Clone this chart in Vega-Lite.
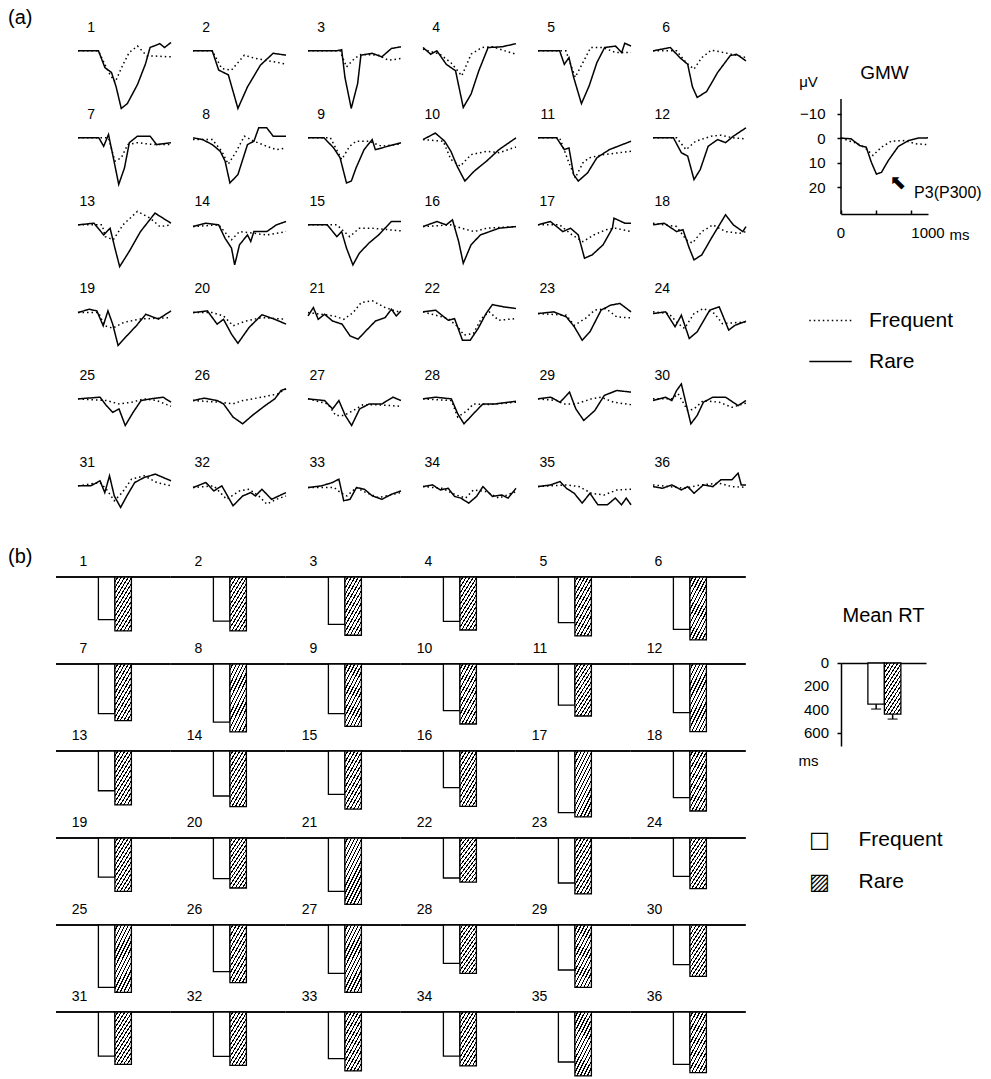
{
"$schema": "https://vega.github.io/schema/vega-lite/v6.json",
"padding": {"left": 8, "top": 7, "right": 2, "bottom": 2},
"background": "white",
"config": {
"view": {"stroke": null},
"font": "Liberation Sans",
"header": {"labels": false, "labelFontSize": 0.1, "labelPadding": 0},
"headerFacet": {"labels": false, "labelFontSize": 0.1, "labelPadding": 0},
"axis": {"domainColor": "black", "tickColor": "black", "labelColor": "black", "titleColor": "black", "domainWidth": 1.5, "tickWidth": 1.5, "grid": false, "labelFont": "Liberation Sans", "titleFont": "Liberation Sans", "labelFontSize": 15, "titleFontWeight": "normal", "labelOverlap": false},
"title": {"font": "Liberation Sans", "fontWeight": "normal", "color": "black"},
"text": {"font": "Liberation Sans", "color": "black"}
},
"datasets": {
"w": [
{"p":1,"c":"R","t":0,"v":0},{"p":1,"c":"R","t":220,"v":0},{"p":1,"c":"R","t":290,"v":7},{"p":1,"c":"R","t":360,"v":9},{"p":1,"c":"R","t":410,"v":15},{"p":1,"c":"R","t":465,"v":24},{"p":1,"c":"R","t":530,"v":22},{"p":1,"c":"R","t":640,"v":14},{"p":1,"c":"R","t":725,"v":5.5},{"p":1,"c":"R","t":775,"v":-1.4},{"p":1,"c":"R","t":880,"v":-3},{"p":1,"c":"R","t":930,"v":-1.4},{"p":1,"c":"R","t":1000,"v":-3.5},
{"p":1,"c":"F","t":0,"v":0},{"p":1,"c":"F","t":220,"v":0},{"p":1,"c":"F","t":330,"v":9},{"p":1,"c":"F","t":400,"v":13},{"p":1,"c":"F","t":480,"v":6},{"p":1,"c":"F","t":550,"v":0.7},{"p":1,"c":"F","t":640,"v":-2},{"p":1,"c":"F","t":740,"v":2},{"p":1,"c":"F","t":1000,"v":2.5},
{"p":2,"c":"R","t":0,"v":0},{"p":2,"c":"R","t":207,"v":0},{"p":2,"c":"R","t":276,"v":8},{"p":2,"c":"R","t":380,"v":10},{"p":2,"c":"R","t":483,"v":24},{"p":2,"c":"R","t":586,"v":15},{"p":2,"c":"R","t":724,"v":6},{"p":2,"c":"R","t":862,"v":1},{"p":2,"c":"R","t":1000,"v":1.8},
{"p":2,"c":"F","t":0,"v":0},{"p":2,"c":"F","t":207,"v":0},{"p":2,"c":"F","t":310,"v":7.4},{"p":2,"c":"F","t":414,"v":8},{"p":2,"c":"F","t":552,"v":1.8},{"p":2,"c":"F","t":655,"v":3},{"p":2,"c":"F","t":793,"v":4},{"p":2,"c":"F","t":1000,"v":5.5},
{"p":3,"c":"R","t":0,"v":0},{"p":3,"c":"R","t":310,"v":0},{"p":3,"c":"R","t":362,"v":-0.5},{"p":3,"c":"R","t":397,"v":11},{"p":3,"c":"R","t":465,"v":24},{"p":3,"c":"R","t":534,"v":13.6},{"p":3,"c":"R","t":569,"v":1.8},{"p":3,"c":"R","t":690,"v":1},{"p":3,"c":"R","t":793,"v":2.5},{"p":3,"c":"R","t":897,"v":-1},{"p":3,"c":"R","t":1000,"v":-1.7},
{"p":3,"c":"F","t":0,"v":0},{"p":3,"c":"F","t":345,"v":0},{"p":3,"c":"F","t":414,"v":6.7},{"p":3,"c":"F","t":500,"v":3.2},{"p":3,"c":"F","t":569,"v":1.5},{"p":3,"c":"F","t":760,"v":1.8},{"p":3,"c":"F","t":862,"v":3.9},{"p":3,"c":"F","t":1000,"v":3.2},
{"p":4,"c":"R","t":0,"v":-1.4},{"p":4,"c":"R","t":83,"v":1.4},{"p":4,"c":"R","t":150,"v":0},{"p":4,"c":"R","t":250,"v":5.6},{"p":4,"c":"R","t":350,"v":8.3},{"p":4,"c":"R","t":433,"v":23.6},{"p":4,"c":"R","t":517,"v":18},{"p":4,"c":"R","t":600,"v":8.3},{"p":4,"c":"R","t":700,"v":-1.4},{"p":4,"c":"R","t":850,"v":-1.7},{"p":4,"c":"R","t":1000,"v":-3},
{"p":4,"c":"F","t":0,"v":-0.7},{"p":4,"c":"F","t":183,"v":1.4},{"p":4,"c":"F","t":300,"v":4.9},{"p":4,"c":"F","t":417,"v":10.4},{"p":4,"c":"F","t":517,"v":1.4},{"p":4,"c":"F","t":633,"v":-1.4},{"p":4,"c":"F","t":750,"v":-1.7},{"p":4,"c":"F","t":883,"v":0},{"p":4,"c":"F","t":1000,"v":1.4},
{"p":5,"c":"R","t":0,"v":0},{"p":5,"c":"R","t":233,"v":0},{"p":5,"c":"R","t":283,"v":5.6},{"p":5,"c":"R","t":333,"v":2.8},{"p":5,"c":"R","t":383,"v":11},{"p":5,"c":"R","t":467,"v":22},{"p":5,"c":"R","t":550,"v":14.6},{"p":5,"c":"R","t":633,"v":4.9},{"p":5,"c":"R","t":717,"v":-1.4},{"p":5,"c":"R","t":833,"v":-2},{"p":5,"c":"R","t":900,"v":0.7},{"p":5,"c":"R","t":933,"v":-3.2},{"p":5,"c":"R","t":1000,"v":-2},
{"p":5,"c":"F","t":0,"v":0},{"p":5,"c":"F","t":300,"v":0},{"p":5,"c":"F","t":400,"v":11},{"p":5,"c":"F","t":483,"v":4.9},{"p":5,"c":"F","t":567,"v":-1.4},{"p":5,"c":"F","t":700,"v":-1.4},{"p":5,"c":"F","t":833,"v":0.7},{"p":5,"c":"F","t":1000,"v":0.7},
{"p":6,"c":"R","t":0,"v":0},{"p":6,"c":"R","t":186,"v":-1.4},{"p":6,"c":"R","t":288,"v":2.8},{"p":6,"c":"R","t":373,"v":5.6},{"p":6,"c":"R","t":424,"v":15},{"p":6,"c":"R","t":475,"v":19.4},{"p":6,"c":"R","t":576,"v":17},{"p":6,"c":"R","t":695,"v":9},{"p":6,"c":"R","t":830,"v":2},{"p":6,"c":"R","t":898,"v":1.4},{"p":6,"c":"R","t":1000,"v":4.2},
{"p":6,"c":"F","t":0,"v":0},{"p":6,"c":"F","t":254,"v":0},{"p":6,"c":"F","t":356,"v":4.9},{"p":6,"c":"F","t":441,"v":7.6},{"p":6,"c":"F","t":525,"v":2.8},{"p":6,"c":"F","t":627,"v":-0.3},{"p":6,"c":"F","t":763,"v":0.7},{"p":6,"c":"F","t":1000,"v":2.8},
{"p":7,"c":"R","t":0,"v":0},{"p":7,"c":"R","t":224,"v":0},{"p":7,"c":"R","t":276,"v":3.5},{"p":7,"c":"R","t":328,"v":-1.4},{"p":7,"c":"R","t":380,"v":8.3},{"p":7,"c":"R","t":438,"v":19.4},{"p":7,"c":"R","t":500,"v":12.5},{"p":7,"c":"R","t":552,"v":2},{"p":7,"c":"R","t":638,"v":-0.7},{"p":7,"c":"R","t":776,"v":-0.7},{"p":7,"c":"R","t":845,"v":2.8},{"p":7,"c":"R","t":1000,"v":2},
{"p":7,"c":"F","t":0,"v":0},{"p":7,"c":"F","t":328,"v":0},{"p":7,"c":"F","t":397,"v":9.7},{"p":7,"c":"F","t":466,"v":8.3},{"p":7,"c":"F","t":534,"v":2.8},{"p":7,"c":"F","t":638,"v":2},{"p":7,"c":"F","t":810,"v":2.8},{"p":7,"c":"F","t":1000,"v":2.8},
{"p":8,"c":"R","t":0,"v":0},{"p":8,"c":"R","t":103,"v":0.7},{"p":8,"c":"R","t":207,"v":2.8},{"p":8,"c":"R","t":293,"v":5.6},{"p":8,"c":"R","t":345,"v":9.7},{"p":8,"c":"R","t":397,"v":18.8},{"p":8,"c":"R","t":483,"v":15.3},{"p":8,"c":"R","t":586,"v":2.8},{"p":8,"c":"R","t":655,"v":1.4},{"p":8,"c":"R","t":707,"v":-4.2},{"p":8,"c":"R","t":793,"v":-4.2},{"p":8,"c":"R","t":862,"v":-0.7},{"p":8,"c":"R","t":1000,"v":-0.7},
{"p":8,"c":"F","t":0,"v":0.7},{"p":8,"c":"F","t":207,"v":0.7},{"p":8,"c":"F","t":310,"v":5.6},{"p":8,"c":"F","t":379,"v":11},{"p":8,"c":"F","t":466,"v":5.6},{"p":8,"c":"F","t":552,"v":-0.7},{"p":8,"c":"F","t":655,"v":1.4},{"p":8,"c":"F","t":793,"v":3.5},{"p":8,"c":"F","t":897,"v":4.9},{"p":8,"c":"F","t":1000,"v":4.2},
{"p":9,"c":"R","t":0,"v":0},{"p":9,"c":"R","t":172,"v":0},{"p":9,"c":"R","t":276,"v":4.2},{"p":9,"c":"R","t":345,"v":8.3},{"p":9,"c":"R","t":414,"v":18.8},{"p":9,"c":"R","t":466,"v":18},{"p":9,"c":"R","t":517,"v":12.5},{"p":9,"c":"R","t":603,"v":4.9},{"p":9,"c":"R","t":690,"v":0.7},{"p":9,"c":"R","t":724,"v":4.9},{"p":9,"c":"R","t":793,"v":4.2},{"p":9,"c":"R","t":1000,"v":2},
{"p":9,"c":"F","t":0,"v":0},{"p":9,"c":"F","t":241,"v":0},{"p":9,"c":"F","t":362,"v":9},{"p":9,"c":"F","t":448,"v":3.5},{"p":9,"c":"F","t":517,"v":1.4},{"p":9,"c":"F","t":655,"v":1.4},{"p":9,"c":"F","t":793,"v":3.5},{"p":9,"c":"F","t":1000,"v":2.5},
{"p":10,"c":"R","t":0,"v":0.7},{"p":10,"c":"R","t":133,"v":-2},{"p":10,"c":"R","t":233,"v":1.4},{"p":10,"c":"R","t":300,"v":5.6},{"p":10,"c":"R","t":367,"v":11.8},{"p":10,"c":"R","t":450,"v":18},{"p":10,"c":"R","t":550,"v":13.9},{"p":10,"c":"R","t":683,"v":9.7},{"p":10,"c":"R","t":817,"v":4.9},{"p":10,"c":"R","t":1000,"v":0},
{"p":10,"c":"F","t":0,"v":0.7},{"p":10,"c":"F","t":217,"v":1.4},{"p":10,"c":"F","t":300,"v":9},{"p":10,"c":"F","t":400,"v":11.8},{"p":10,"c":"F","t":517,"v":7},{"p":10,"c":"F","t":683,"v":5.6},{"p":10,"c":"F","t":817,"v":6.2},{"p":10,"c":"F","t":1000,"v":3.8},
{"p":11,"c":"R","t":0,"v":0},{"p":11,"c":"R","t":200,"v":0},{"p":11,"c":"R","t":283,"v":4.9},{"p":11,"c":"R","t":333,"v":4.2},{"p":11,"c":"R","t":383,"v":15.3},{"p":11,"c":"R","t":433,"v":18},{"p":11,"c":"R","t":533,"v":14.6},{"p":11,"c":"R","t":633,"v":8.3},{"p":11,"c":"R","t":767,"v":4.9},{"p":11,"c":"R","t":1000,"v":1.4},
{"p":11,"c":"F","t":0,"v":0},{"p":11,"c":"F","t":233,"v":0},{"p":11,"c":"F","t":333,"v":10.4},{"p":11,"c":"F","t":400,"v":16.7},{"p":11,"c":"F","t":483,"v":10.4},{"p":11,"c":"F","t":550,"v":8.3},{"p":11,"c":"F","t":700,"v":7},{"p":11,"c":"F","t":1000,"v":5.6},
{"p":12,"c":"R","t":0,"v":0},{"p":12,"c":"R","t":220,"v":0},{"p":12,"c":"R","t":305,"v":6.2},{"p":12,"c":"R","t":373,"v":7.6},{"p":12,"c":"R","t":441,"v":17.4},{"p":12,"c":"R","t":508,"v":13.2},{"p":12,"c":"R","t":593,"v":3.5},{"p":12,"c":"R","t":695,"v":0.7},{"p":12,"c":"R","t":780,"v":2},{"p":12,"c":"R","t":864,"v":-0.7},{"p":12,"c":"R","t":1000,"v":-4.2},
{"p":12,"c":"F","t":0,"v":0},{"p":12,"c":"F","t":254,"v":0},{"p":12,"c":"F","t":356,"v":4.9},{"p":12,"c":"F","t":458,"v":1.4},{"p":12,"c":"F","t":627,"v":-0.7},{"p":12,"c":"F","t":729,"v":-1.1},{"p":12,"c":"F","t":864,"v":0},{"p":12,"c":"F","t":1000,"v":0.4},
{"p":13,"c":"R","t":0,"v":0},{"p":13,"c":"R","t":172,"v":-0.7},{"p":13,"c":"R","t":276,"v":4.2},{"p":13,"c":"R","t":345,"v":1.4},{"p":13,"c":"R","t":397,"v":9.7},{"p":13,"c":"R","t":448,"v":17.4},{"p":13,"c":"R","t":552,"v":11},{"p":13,"c":"R","t":672,"v":2.8},{"p":13,"c":"R","t":828,"v":-4.9},{"p":13,"c":"R","t":914,"v":-2.8},{"p":13,"c":"R","t":1000,"v":-0.7},
{"p":13,"c":"F","t":0,"v":0},{"p":13,"c":"F","t":259,"v":0},{"p":13,"c":"F","t":293,"v":4.9},{"p":13,"c":"F","t":380,"v":6.2},{"p":13,"c":"F","t":483,"v":0},{"p":13,"c":"F","t":638,"v":-5.6},{"p":13,"c":"F","t":776,"v":-2.8},{"p":13,"c":"F","t":880,"v":0.7},{"p":13,"c":"F","t":1000,"v":0},
{"p":14,"c":"R","t":0,"v":0.7},{"p":14,"c":"R","t":138,"v":-0.7},{"p":14,"c":"R","t":276,"v":0},{"p":14,"c":"R","t":345,"v":5.6},{"p":14,"c":"R","t":414,"v":9.7},{"p":14,"c":"R","t":448,"v":16.7},{"p":14,"c":"R","t":500,"v":8.3},{"p":14,"c":"R","t":586,"v":4.2},{"p":14,"c":"R","t":621,"v":6.9},{"p":14,"c":"R","t":655,"v":2.8},{"p":14,"c":"R","t":793,"v":2.8},{"p":14,"c":"R","t":897,"v":0},{"p":14,"c":"R","t":1000,"v":-1.4},
{"p":14,"c":"F","t":0,"v":0.7},{"p":14,"c":"F","t":276,"v":0},{"p":14,"c":"F","t":414,"v":6.2},{"p":14,"c":"F","t":500,"v":2.8},{"p":14,"c":"F","t":655,"v":3.5},{"p":14,"c":"F","t":793,"v":4.2},{"p":14,"c":"F","t":1000,"v":2.8},
{"p":15,"c":"R","t":0,"v":0},{"p":15,"c":"R","t":207,"v":0},{"p":15,"c":"R","t":310,"v":4.9},{"p":15,"c":"R","t":362,"v":2.8},{"p":15,"c":"R","t":414,"v":9.7},{"p":15,"c":"R","t":483,"v":16.7},{"p":15,"c":"R","t":552,"v":11.8},{"p":15,"c":"R","t":655,"v":7.6},{"p":15,"c":"R","t":759,"v":4.2},{"p":15,"c":"R","t":897,"v":-1.4},{"p":15,"c":"R","t":1000,"v":-1.4},
{"p":15,"c":"F","t":0,"v":0},{"p":15,"c":"F","t":310,"v":0},{"p":15,"c":"F","t":448,"v":4.9},{"p":15,"c":"F","t":552,"v":1.4},{"p":15,"c":"F","t":690,"v":1.4},{"p":15,"c":"F","t":1000,"v":2.5},
{"p":16,"c":"R","t":0,"v":0.7},{"p":16,"c":"R","t":150,"v":-1.4},{"p":16,"c":"R","t":250,"v":0},{"p":16,"c":"R","t":317,"v":-2.1},{"p":16,"c":"R","t":383,"v":6.9},{"p":16,"c":"R","t":433,"v":16},{"p":16,"c":"R","t":517,"v":8.3},{"p":16,"c":"R","t":617,"v":4.2},{"p":16,"c":"R","t":717,"v":2.8},{"p":16,"c":"R","t":817,"v":1.4},{"p":16,"c":"R","t":1000,"v":0.7},
{"p":16,"c":"F","t":0,"v":0.7},{"p":16,"c":"F","t":300,"v":0},{"p":16,"c":"F","t":417,"v":1.4},{"p":16,"c":"F","t":550,"v":2.8},{"p":16,"c":"F","t":683,"v":1.4},{"p":16,"c":"F","t":1000,"v":0.7},
{"p":17,"c":"R","t":0,"v":0},{"p":17,"c":"R","t":133,"v":-1.4},{"p":17,"c":"R","t":267,"v":2.8},{"p":17,"c":"R","t":350,"v":1.4},{"p":17,"c":"R","t":433,"v":4.2},{"p":17,"c":"R","t":500,"v":13.9},{"p":17,"c":"R","t":583,"v":12.5},{"p":17,"c":"R","t":700,"v":8.3},{"p":17,"c":"R","t":800,"v":1.4},{"p":17,"c":"R","t":817,"v":-2.8},{"p":17,"c":"R","t":933,"v":-0.7},{"p":17,"c":"R","t":1000,"v":-0.7},
{"p":17,"c":"F","t":0,"v":0},{"p":17,"c":"F","t":233,"v":0},{"p":17,"c":"F","t":367,"v":4.2},{"p":17,"c":"F","t":483,"v":7},{"p":17,"c":"F","t":600,"v":4.2},{"p":17,"c":"F","t":733,"v":2},{"p":17,"c":"F","t":833,"v":1.4},{"p":17,"c":"F","t":1000,"v":2.8},
{"p":18,"c":"R","t":0,"v":0},{"p":18,"c":"R","t":119,"v":-0.7},{"p":18,"c":"R","t":254,"v":2.8},{"p":18,"c":"R","t":322,"v":2},{"p":18,"c":"R","t":390,"v":9.7},{"p":18,"c":"R","t":441,"v":14.6},{"p":18,"c":"R","t":525,"v":12.5},{"p":18,"c":"R","t":627,"v":5.6},{"p":18,"c":"R","t":780,"v":-4.2},{"p":18,"c":"R","t":864,"v":0},{"p":18,"c":"R","t":966,"v":2.8},{"p":18,"c":"R","t":1000,"v":0.7},
{"p":18,"c":"F","t":0,"v":-0.7},{"p":18,"c":"F","t":254,"v":0.7},{"p":18,"c":"F","t":356,"v":6.2},{"p":18,"c":"F","t":424,"v":7.6},{"p":18,"c":"F","t":525,"v":2.8},{"p":18,"c":"F","t":644,"v":0},{"p":18,"c":"F","t":780,"v":2.8},{"p":18,"c":"F","t":932,"v":3.5},{"p":18,"c":"F","t":1000,"v":2.8},
{"p":19,"c":"R","t":0,"v":0.3},{"p":19,"c":"R","t":119,"v":-1.1},{"p":19,"c":"R","t":203,"v":-0.4},{"p":19,"c":"R","t":271,"v":5.8},{"p":19,"c":"R","t":322,"v":-0.4},{"p":19,"c":"R","t":373,"v":5.1},{"p":19,"c":"R","t":431,"v":14},{"p":19,"c":"R","t":525,"v":10},{"p":19,"c":"R","t":627,"v":5.8},{"p":19,"c":"R","t":729,"v":1},{"p":19,"c":"R","t":864,"v":3},{"p":19,"c":"R","t":1000,"v":-0.4},
{"p":19,"c":"F","t":0,"v":0.3},{"p":19,"c":"F","t":220,"v":0.3},{"p":19,"c":"F","t":288,"v":5.8},{"p":19,"c":"F","t":373,"v":6.8},{"p":19,"c":"F","t":492,"v":4.4},{"p":19,"c":"F","t":661,"v":3},{"p":19,"c":"F","t":1000,"v":2.4},
{"p":20,"c":"R","t":0,"v":0.3},{"p":20,"c":"R","t":155,"v":-0.4},{"p":20,"c":"R","t":259,"v":5.1},{"p":20,"c":"R","t":328,"v":3.1},{"p":20,"c":"R","t":414,"v":9.3},{"p":20,"c":"R","t":483,"v":13.1},{"p":20,"c":"R","t":603,"v":6.5},{"p":20,"c":"R","t":741,"v":1.2},{"p":20,"c":"R","t":879,"v":3.1},{"p":20,"c":"R","t":1000,"v":5.1},
{"p":20,"c":"F","t":0,"v":0.3},{"p":20,"c":"F","t":207,"v":0.3},{"p":20,"c":"F","t":328,"v":1.7},{"p":20,"c":"F","t":431,"v":5.8},{"p":20,"c":"F","t":569,"v":3.8},{"p":20,"c":"F","t":741,"v":2.4},{"p":20,"c":"F","t":1000,"v":3.1},
{"p":21,"c":"R","t":0,"v":1.7},{"p":21,"c":"R","t":58,"v":-1.8},{"p":21,"c":"R","t":110,"v":3.1},{"p":21,"c":"R","t":178,"v":1},{"p":21,"c":"R","t":264,"v":3.8},{"p":21,"c":"R","t":366,"v":5.1},{"p":21,"c":"R","t":452,"v":10},{"p":21,"c":"R","t":538,"v":11.4},{"p":21,"c":"R","t":623,"v":7.9},{"p":21,"c":"R","t":726,"v":3.8},{"p":21,"c":"R","t":829,"v":2.4},{"p":21,"c":"R","t":897,"v":-1.1},{"p":21,"c":"R","t":949,"v":1.7},{"p":21,"c":"R","t":1000,"v":-0.4},
{"p":21,"c":"F","t":0,"v":0.3},{"p":21,"c":"F","t":144,"v":1},{"p":21,"c":"F","t":281,"v":1.7},{"p":21,"c":"F","t":384,"v":3.1},{"p":21,"c":"F","t":486,"v":0.3},{"p":21,"c":"F","t":572,"v":-3.9},{"p":21,"c":"F","t":692,"v":-4.6},{"p":21,"c":"F","t":829,"v":-1.8},{"p":21,"c":"F","t":1000,"v":0.3},
{"p":22,"c":"R","t":0,"v":0},{"p":22,"c":"R","t":136,"v":-0.7},{"p":22,"c":"R","t":271,"v":3.5},{"p":22,"c":"R","t":339,"v":2.8},{"p":22,"c":"R","t":424,"v":11.8},{"p":22,"c":"R","t":508,"v":11.8},{"p":22,"c":"R","t":593,"v":6.9},{"p":22,"c":"R","t":678,"v":0.7},{"p":22,"c":"R","t":746,"v":-3},{"p":22,"c":"R","t":881,"v":-2},{"p":22,"c":"R","t":1000,"v":-1.4},
{"p":22,"c":"F","t":0,"v":0},{"p":22,"c":"F","t":271,"v":2.8},{"p":22,"c":"F","t":373,"v":6.2},{"p":22,"c":"F","t":441,"v":9.7},{"p":22,"c":"F","t":542,"v":9},{"p":22,"c":"F","t":627,"v":2.8},{"p":22,"c":"F","t":712,"v":0},{"p":22,"c":"F","t":814,"v":3.5},{"p":22,"c":"F","t":1000,"v":2.8},
{"p":23,"c":"R","t":0,"v":0.7},{"p":23,"c":"R","t":169,"v":0},{"p":23,"c":"R","t":305,"v":2.1},{"p":23,"c":"R","t":390,"v":6.2},{"p":23,"c":"R","t":475,"v":11.8},{"p":23,"c":"R","t":559,"v":8.3},{"p":23,"c":"R","t":678,"v":-0.7},{"p":23,"c":"R","t":780,"v":-2.8},{"p":23,"c":"R","t":881,"v":-3.5},{"p":23,"c":"R","t":1000,"v":0},
{"p":23,"c":"F","t":0,"v":0.7},{"p":23,"c":"F","t":305,"v":1.4},{"p":23,"c":"F","t":390,"v":5.6},{"p":23,"c":"F","t":508,"v":2.8},{"p":23,"c":"F","t":610,"v":-0.7},{"p":23,"c":"F","t":729,"v":-1.4},{"p":23,"c":"F","t":847,"v":2.1},{"p":23,"c":"F","t":1000,"v":2.5},
{"p":24,"c":"R","t":0,"v":0.7},{"p":24,"c":"R","t":136,"v":0},{"p":24,"c":"R","t":237,"v":6.2},{"p":24,"c":"R","t":305,"v":1.4},{"p":24,"c":"R","t":390,"v":11.1},{"p":24,"c":"R","t":475,"v":8.3},{"p":24,"c":"R","t":610,"v":-0.7},{"p":24,"c":"R","t":712,"v":-2.1},{"p":24,"c":"R","t":814,"v":7.6},{"p":24,"c":"R","t":881,"v":5.6},{"p":24,"c":"R","t":1000,"v":3.9},
{"p":24,"c":"F","t":0,"v":0},{"p":24,"c":"F","t":170,"v":0.7},{"p":24,"c":"F","t":271,"v":4.9},{"p":24,"c":"F","t":339,"v":6.9},{"p":24,"c":"F","t":441,"v":0.7},{"p":24,"c":"F","t":542,"v":-1.4},{"p":24,"c":"F","t":661,"v":0.7},{"p":24,"c":"F","t":746,"v":4.9},{"p":24,"c":"F","t":1000,"v":4.2},
{"p":25,"c":"R","t":0,"v":0},{"p":25,"c":"R","t":237,"v":-0.7},{"p":25,"c":"R","t":305,"v":2.8},{"p":25,"c":"R","t":373,"v":5.6},{"p":25,"c":"R","t":441,"v":4.2},{"p":25,"c":"R","t":508,"v":11.1},{"p":25,"c":"R","t":593,"v":5.6},{"p":25,"c":"R","t":678,"v":0.7},{"p":25,"c":"R","t":780,"v":0},{"p":25,"c":"R","t":915,"v":-0.7},{"p":25,"c":"R","t":1000,"v":1.4},
{"p":25,"c":"F","t":0,"v":0},{"p":25,"c":"F","t":305,"v":0.7},{"p":25,"c":"F","t":441,"v":2.1},{"p":25,"c":"F","t":576,"v":1.4},{"p":25,"c":"F","t":712,"v":0},{"p":25,"c":"F","t":847,"v":0.7},{"p":25,"c":"F","t":1000,"v":3.1},
{"p":26,"c":"R","t":0,"v":0.7},{"p":26,"c":"R","t":121,"v":-0.3},{"p":26,"c":"R","t":259,"v":0.7},{"p":26,"c":"R","t":328,"v":2.1},{"p":26,"c":"R","t":431,"v":7.6},{"p":26,"c":"R","t":534,"v":10.4},{"p":26,"c":"R","t":638,"v":6.9},{"p":26,"c":"R","t":776,"v":2.8},{"p":26,"c":"R","t":879,"v":0},{"p":26,"c":"R","t":948,"v":-3.5},{"p":26,"c":"R","t":1000,"v":-4.2},
{"p":26,"c":"F","t":0,"v":0.7},{"p":26,"c":"F","t":293,"v":1.4},{"p":26,"c":"F","t":431,"v":2.1},{"p":26,"c":"F","t":534,"v":0.7},{"p":26,"c":"F","t":741,"v":-0.7},{"p":26,"c":"F","t":914,"v":-2.1},{"p":26,"c":"F","t":1000,"v":-4.2},
{"p":27,"c":"R","t":0,"v":0},{"p":27,"c":"R","t":178,"v":0.7},{"p":27,"c":"R","t":264,"v":4.2},{"p":27,"c":"R","t":332,"v":0.7},{"p":27,"c":"R","t":400,"v":6.9},{"p":27,"c":"R","t":469,"v":11.1},{"p":27,"c":"R","t":555,"v":4.2},{"p":27,"c":"R","t":658,"v":2.1},{"p":27,"c":"R","t":795,"v":2.1},{"p":27,"c":"R","t":914,"v":-0.7},{"p":27,"c":"R","t":1000,"v":0.7},
{"p":27,"c":"F","t":0,"v":0},{"p":27,"c":"F","t":212,"v":2.1},{"p":27,"c":"F","t":298,"v":6.9},{"p":27,"c":"F","t":384,"v":6.9},{"p":27,"c":"F","t":486,"v":4.9},{"p":27,"c":"F","t":589,"v":2.5},{"p":27,"c":"F","t":760,"v":2.5},{"p":27,"c":"F","t":1000,"v":3.1},
{"p":28,"c":"R","t":0,"v":0},{"p":28,"c":"R","t":136,"v":-0.7},{"p":28,"c":"R","t":305,"v":0},{"p":28,"c":"R","t":373,"v":6.2},{"p":28,"c":"R","t":441,"v":10.4},{"p":28,"c":"R","t":542,"v":6.2},{"p":28,"c":"R","t":644,"v":2.1},{"p":28,"c":"R","t":780,"v":2.1},{"p":28,"c":"R","t":1000,"v":1},
{"p":28,"c":"F","t":0,"v":0},{"p":28,"c":"F","t":305,"v":0.7},{"p":28,"c":"F","t":373,"v":7.6},{"p":28,"c":"F","t":475,"v":4.9},{"p":28,"c":"F","t":542,"v":2.1},{"p":28,"c":"F","t":712,"v":2.4},{"p":28,"c":"F","t":1000,"v":1.4},
{"p":29,"c":"R","t":0,"v":0},{"p":29,"c":"R","t":136,"v":-0.7},{"p":29,"c":"R","t":237,"v":1.4},{"p":29,"c":"R","t":339,"v":-2.8},{"p":29,"c":"R","t":407,"v":4.2},{"p":29,"c":"R","t":492,"v":9},{"p":29,"c":"R","t":610,"v":4.9},{"p":29,"c":"R","t":712,"v":-1.4},{"p":29,"c":"R","t":847,"v":-3.5},{"p":29,"c":"R","t":1000,"v":-2.8},
{"p":29,"c":"F","t":0,"v":0},{"p":29,"c":"F","t":203,"v":0.7},{"p":29,"c":"F","t":271,"v":2.1},{"p":29,"c":"F","t":407,"v":2.1},{"p":29,"c":"F","t":576,"v":0},{"p":29,"c":"F","t":678,"v":-0.7},{"p":29,"c":"F","t":814,"v":1.4},{"p":29,"c":"F","t":1000,"v":2.4},
{"p":30,"c":"R","t":0,"v":0.7},{"p":30,"c":"R","t":136,"v":-0.7},{"p":30,"c":"R","t":203,"v":0.7},{"p":30,"c":"R","t":254,"v":-3.5},{"p":30,"c":"R","t":305,"v":-6.2},{"p":30,"c":"R","t":356,"v":2.1},{"p":30,"c":"R","t":407,"v":10.4},{"p":30,"c":"R","t":475,"v":6.9},{"p":30,"c":"R","t":542,"v":1.4},{"p":30,"c":"R","t":644,"v":-0.7},{"p":30,"c":"R","t":780,"v":-0.7},{"p":30,"c":"R","t":915,"v":2.8},{"p":30,"c":"R","t":1000,"v":0.7},
{"p":30,"c":"F","t":0,"v":0},{"p":30,"c":"F","t":203,"v":0},{"p":30,"c":"F","t":271,"v":-2.1},{"p":30,"c":"F","t":373,"v":4.9},{"p":30,"c":"F","t":441,"v":4.2},{"p":30,"c":"F","t":542,"v":0.7},{"p":30,"c":"F","t":712,"v":1.4},{"p":30,"c":"F","t":847,"v":3.5},{"p":30,"c":"F","t":1000,"v":1.8},
{"p":31,"c":"R","t":0,"v":0},{"p":31,"c":"R","t":136,"v":0},{"p":31,"c":"R","t":237,"v":-2.1},{"p":31,"c":"R","t":288,"v":2.8},{"p":31,"c":"R","t":339,"v":-4.2},{"p":31,"c":"R","t":390,"v":4.2},{"p":31,"c":"R","t":458,"v":9},{"p":31,"c":"R","t":525,"v":4.2},{"p":31,"c":"R","t":610,"v":-1.4},{"p":31,"c":"R","t":712,"v":-3.5},{"p":31,"c":"R","t":831,"v":-4.9},{"p":31,"c":"R","t":1000,"v":-2.1},
{"p":31,"c":"F","t":0,"v":0},{"p":31,"c":"F","t":237,"v":-1.4},{"p":31,"c":"F","t":305,"v":1.4},{"p":31,"c":"F","t":390,"v":6.2},{"p":31,"c":"F","t":475,"v":2.8},{"p":31,"c":"F","t":576,"v":-2.8},{"p":31,"c":"F","t":712,"v":-4.2},{"p":31,"c":"F","t":847,"v":-1.4},{"p":31,"c":"F","t":1000,"v":0},
{"p":32,"c":"R","t":0,"v":0.7},{"p":32,"c":"R","t":138,"v":-1.4},{"p":32,"c":"R","t":224,"v":2.1},{"p":32,"c":"R","t":310,"v":0},{"p":32,"c":"R","t":431,"v":8.3},{"p":32,"c":"R","t":534,"v":4.2},{"p":32,"c":"R","t":621,"v":2.8},{"p":32,"c":"R","t":672,"v":4.2},{"p":32,"c":"R","t":741,"v":1.4},{"p":32,"c":"R","t":845,"v":5.6},{"p":32,"c":"R","t":1000,"v":2.8},
{"p":32,"c":"F","t":0,"v":0.7},{"p":32,"c":"F","t":224,"v":0},{"p":32,"c":"F","t":362,"v":5.6},{"p":32,"c":"F","t":500,"v":2.1},{"p":32,"c":"F","t":603,"v":1.4},{"p":32,"c":"F","t":707,"v":4.2},{"p":32,"c":"F","t":793,"v":7.6},{"p":32,"c":"F","t":897,"v":5.6},{"p":32,"c":"F","t":1000,"v":4.2},
{"p":33,"c":"R","t":0,"v":0.7},{"p":33,"c":"R","t":144,"v":0},{"p":33,"c":"R","t":264,"v":-1.4},{"p":33,"c":"R","t":332,"v":-2.8},{"p":33,"c":"R","t":384,"v":6.2},{"p":33,"c":"R","t":452,"v":5.6},{"p":33,"c":"R","t":521,"v":0.7},{"p":33,"c":"R","t":606,"v":1.4},{"p":33,"c":"R","t":692,"v":4.2},{"p":33,"c":"R","t":795,"v":5.6},{"p":33,"c":"R","t":897,"v":3.5},{"p":33,"c":"R","t":1000,"v":2.1},
{"p":33,"c":"F","t":0,"v":0.7},{"p":33,"c":"F","t":281,"v":0.7},{"p":33,"c":"F","t":349,"v":2.8},{"p":33,"c":"F","t":418,"v":4.2},{"p":33,"c":"F","t":521,"v":0.7},{"p":33,"c":"F","t":623,"v":2.8},{"p":33,"c":"F","t":760,"v":4.9},{"p":33,"c":"F","t":1000,"v":2.8},
{"p":34,"c":"R","t":0,"v":0.3},{"p":34,"c":"R","t":102,"v":-0.4},{"p":34,"c":"R","t":186,"v":1.7},{"p":34,"c":"R","t":271,"v":1},{"p":34,"c":"R","t":339,"v":4.4},{"p":34,"c":"R","t":407,"v":5.1},{"p":34,"c":"R","t":492,"v":7.2},{"p":34,"c":"R","t":576,"v":4.4},{"p":34,"c":"R","t":644,"v":0.3},{"p":34,"c":"R","t":746,"v":4.4},{"p":34,"c":"R","t":847,"v":3.8},{"p":34,"c":"R","t":915,"v":5.1},{"p":34,"c":"R","t":1000,"v":1},
{"p":34,"c":"F","t":0,"v":0.3},{"p":34,"c":"F","t":203,"v":1},{"p":34,"c":"F","t":356,"v":3.8},{"p":34,"c":"F","t":458,"v":5.1},{"p":34,"c":"F","t":542,"v":1.7},{"p":34,"c":"F","t":678,"v":2.4},{"p":34,"c":"F","t":814,"v":5.1},{"p":34,"c":"F","t":1000,"v":2.4},
{"p":35,"c":"R","t":0,"v":0.3},{"p":35,"c":"R","t":136,"v":-0.4},{"p":35,"c":"R","t":237,"v":-1.8},{"p":35,"c":"R","t":305,"v":1},{"p":35,"c":"R","t":390,"v":3.1},{"p":35,"c":"R","t":475,"v":7.2},{"p":35,"c":"R","t":559,"v":3.1},{"p":35,"c":"R","t":644,"v":7.9},{"p":35,"c":"R","t":746,"v":7.9},{"p":35,"c":"R","t":831,"v":5.1},{"p":35,"c":"R","t":898,"v":7.9},{"p":35,"c":"R","t":949,"v":5.1},{"p":35,"c":"R","t":1000,"v":7.9},
{"p":35,"c":"F","t":0,"v":0.3},{"p":35,"c":"F","t":305,"v":-0.4},{"p":35,"c":"F","t":441,"v":0.3},{"p":35,"c":"F","t":576,"v":3.1},{"p":35,"c":"F","t":712,"v":3.8},{"p":35,"c":"F","t":847,"v":1.7},{"p":35,"c":"F","t":1000,"v":1.4},
{"p":36,"c":"R","t":0,"v":0.3},{"p":36,"c":"R","t":102,"v":1},{"p":36,"c":"R","t":203,"v":-0.4},{"p":36,"c":"R","t":305,"v":1.7},{"p":36,"c":"R","t":373,"v":0.3},{"p":36,"c":"R","t":441,"v":3.1},{"p":36,"c":"R","t":542,"v":-0.4},{"p":36,"c":"R","t":644,"v":0.3},{"p":36,"c":"R","t":729,"v":-2.5},{"p":36,"c":"R","t":847,"v":-2.5},{"p":36,"c":"R","t":915,"v":-5.3},{"p":36,"c":"R","t":949,"v":-0.4},{"p":36,"c":"R","t":1000,"v":-0.4},
{"p":36,"c":"F","t":0,"v":-0.4},{"p":36,"c":"F","t":170,"v":0.3},{"p":36,"c":"F","t":339,"v":1},{"p":36,"c":"F","t":508,"v":-0.4},{"p":36,"c":"F","t":712,"v":-1.1},{"p":36,"c":"F","t":847,"v":0.3},{"p":36,"c":"F","t":1000,"v":0.6}
],
"rt": [
{"p":1,"c":"F","rt":366},{"p":1,"c":"R","rt":463},{"p":2,"c":"F","rt":378},{"p":2,"c":"R","rt":463},{"p":3,"c":"F","rt":406},{"p":3,"c":"R","rt":500},
{"p":4,"c":"F","rt":380},{"p":4,"c":"R","rt":455},{"p":5,"c":"F","rt":392},{"p":5,"c":"R","rt":506},{"p":6,"c":"F","rt":449},{"p":6,"c":"R","rt":540},
{"p":7,"c":"F","rt":426},{"p":7,"c":"R","rt":486},{"p":8,"c":"F","rt":498},{"p":8,"c":"R","rt":583},{"p":9,"c":"F","rt":426},{"p":9,"c":"R","rt":535},
{"p":10,"c":"F","rt":400},{"p":10,"c":"R","rt":515},{"p":11,"c":"F","rt":352},{"p":11,"c":"R","rt":446},{"p":12,"c":"F","rt":418},{"p":12,"c":"R","rt":581},
{"p":13,"c":"F","rt":341},{"p":13,"c":"R","rt":463},{"p":14,"c":"F","rt":386},{"p":14,"c":"R","rt":478},{"p":15,"c":"F","rt":372},{"p":15,"c":"R","rt":498},
{"p":16,"c":"F","rt":315},{"p":16,"c":"R","rt":475},{"p":17,"c":"F","rt":529},{"p":17,"c":"R","rt":566},{"p":18,"c":"F","rt":400},{"p":18,"c":"R","rt":515},
{"p":19,"c":"F","rt":335},{"p":19,"c":"R","rt":458},{"p":20,"c":"F","rt":349},{"p":20,"c":"R","rt":429},{"p":21,"c":"F","rt":458},{"p":21,"c":"R","rt":569},
{"p":22,"c":"F","rt":343},{"p":22,"c":"R","rt":378},{"p":23,"c":"F","rt":386},{"p":23,"c":"R","rt":480},{"p":24,"c":"F","rt":329},{"p":24,"c":"R","rt":435},
{"p":25,"c":"F","rt":535},{"p":25,"c":"R","rt":578},{"p":26,"c":"F","rt":400},{"p":26,"c":"R","rt":495},{"p":27,"c":"F","rt":415},{"p":27,"c":"R","rt":578},
{"p":28,"c":"F","rt":329},{"p":28,"c":"R","rt":415},{"p":29,"c":"F","rt":386},{"p":29,"c":"R","rt":535},{"p":30,"c":"F","rt":340},{"p":30,"c":"R","rt":440},
{"p":31,"c":"F","rt":378},{"p":31,"c":"R","rt":449},{"p":32,"c":"F","rt":380},{"p":32,"c":"R","rt":458},{"p":33,"c":"F","rt":400},{"p":33,"c":"R","rt":506},
{"p":34,"c":"F","rt":378},{"p":34,"c":"R","rt":463},{"p":35,"c":"F","rt":429},{"p":35,"c":"R","rt":549},{"p":36,"c":"F","rt":449},{"p":36,"c":"R","rt":520}
],
"gmw": [
{"c":"R","t":0,"v":0},{"c":"R","t":116,"v":0.3},{"c":"R","t":213,"v":3},{"c":"R","t":290,"v":3.7},{"c":"R","t":349,"v":9.9},{"c":"R","t":407,"v":14.7},{"c":"R","t":465,"v":14},{"c":"R","t":543,"v":9.2},{"c":"R","t":659,"v":3.4},{"c":"R","t":775,"v":1},{"c":"R","t":891,"v":0},{"c":"R","t":1000,"v":-0.1},
{"c":"F","t":0,"v":0},{"c":"F","t":194,"v":2.3},{"c":"F","t":290,"v":4.4},{"c":"F","t":368,"v":7.1},{"c":"F","t":465,"v":3.7},{"c":"F","t":581,"v":1.2},{"c":"F","t":736,"v":1},{"c":"F","t":853,"v":2.3},{"c":"F","t":1000,"v":2.7}
],
"mrt": [
{"c":"F","rt":352,"hi":395},{"c":"R","rt":438,"hi":481}
],
"leg": [
{"c":"F","label":"Frequent","sym":"□"},{"c":"R","label":"Rare","sym":"▨"}
]
},
"spacing": 49,
"hconcat": [
{
"spacing": 0,
"vconcat": [
{
"data": {"name": "w"},
"title": {"text": "(a)", "anchor": "start", "frame": "group", "dx": -48, "fontSize": 20, "offset": -7},
"facet": {"field": "p", "type": "ordinal", "header": {"labels": false, "title": null, "labelExpr": "''", "labelFontSize": 0.1, "labelPadding": 0}},
"columns": 6,
"bounds": "flush",
"spacing": {"row": 0, "column": 0},
"spec": {
"width": 115,
"height": 86.6,
"layer": [
{
"mark": {"type": "line", "stroke": "black", "strokeWidth": 1.5},
"encoding": {
"x": {"field": "t", "type": "quantitative", "scale": {"domain": [-236.6, 1000], "nice": false}, "axis": null},
"y": {"field": "v", "type": "quantitative", "scale": {"domain": [-11.2, 24.9], "reverse": true, "nice": false}, "axis": null},
"strokeDash": {"field": "c", "type": "nominal", "scale": {"domain": ["F", "R"], "range": [[1.5, 3], [1, 0]]},
"legend": {"orient": "none", "legendX": 752, "legendY": 274, "title": null, "symbolType": "stroke", "symbolSize": 1800, "symbolStrokeWidth": 1.6, "symbolStrokeColor": "black", "labelFontSize": 21, "labelFont": "Liberation Sans", "labelColor": "black", "labelOffset": 16, "rowPadding": 8, "padding": 0, "labelExpr": "datum.label == 'F' ? 'Frequent' : 'Rare'"}}
}
},
{
"transform": [{"filter": "datum.c == 'R' && datum.t == 0"}],
"mark": {"type": "text", "align": "right", "baseline": "middle", "dx": 17, "dy": -23, "fontSize": 14},
"encoding": {"x": {"datum": 0}, "y": {"datum": 0}, "text": {"field": "p"}}
}
]
}
},
{
"data": {"name": "rt"},
"title": {"text": "(b)", "anchor": "start", "frame": "group", "dx": -48, "fontSize": 20, "offset": -12},
"facet": {"field": "p", "type": "ordinal", "header": {"labels": false, "title": null, "labelExpr": "''", "labelFontSize": 0.1, "labelPadding": 0}},
"columns": 6,
"bounds": "flush",
"spacing": {"row": 0, "column": 0},
"spec": {
"width": 114.7,
"height": 87,
"layer": [
{
"mark": {"type": "rule", "stroke": "black", "strokeWidth": 1.5},
"encoding": {"y": {"datum": 0, "type": "quantitative", "scale": {"domain": [-172, 575], "reverse": true, "nice": false}, "axis": null}}
},
{
"transform": [{"filter": "datum.c == 'F'"}],
"mark": {"type": "bar", "fill": "white", "stroke": "black", "strokeWidth": 1.3},
"encoding": {
"x": {"datum": "g", "type": "nominal", "scale": {"paddingInner": 0.192, "paddingOuter": 1, "align": 0.519}, "axis": null},
"xOffset": {"field": "c", "type": "nominal", "scale": {"domain": ["F", "R"], "paddingInner": 0, "paddingOuter": 0}},
"y": {"field": "rt", "type": "quantitative", "axis": null}
}
},
{
"transform": [{"filter": "datum.c == 'R'"}],
"mark": {"type": "bar", "stroke": "black", "strokeWidth": 1.3, "fill": {"gradient": "linear", "x1": 0, "y1": 0, "x2": 0.6, "y2": 1.2, "stops": [
{"offset":0,"color":"white"},{"offset":0.0464,"color":"white"},{"offset":0.0464,"color":"black"},{"offset":0.0714,"color":"black"},
{"offset":0.0714,"color":"white"},{"offset":0.1179,"color":"white"},{"offset":0.1179,"color":"black"},{"offset":0.1429,"color":"black"},
{"offset":0.1429,"color":"white"},{"offset":0.1893,"color":"white"},{"offset":0.1893,"color":"black"},{"offset":0.2143,"color":"black"},
{"offset":0.2143,"color":"white"},{"offset":0.2607,"color":"white"},{"offset":0.2607,"color":"black"},{"offset":0.2857,"color":"black"},
{"offset":0.2857,"color":"white"},{"offset":0.3321,"color":"white"},{"offset":0.3321,"color":"black"},{"offset":0.3571,"color":"black"},
{"offset":0.3571,"color":"white"},{"offset":0.4036,"color":"white"},{"offset":0.4036,"color":"black"},{"offset":0.4286,"color":"black"},
{"offset":0.4286,"color":"white"},{"offset":0.475,"color":"white"},{"offset":0.475,"color":"black"},{"offset":0.5,"color":"black"},
{"offset":0.5,"color":"white"},{"offset":0.5464,"color":"white"},{"offset":0.5464,"color":"black"},{"offset":0.5714,"color":"black"},
{"offset":0.5714,"color":"white"},{"offset":0.6179,"color":"white"},{"offset":0.6179,"color":"black"},{"offset":0.6429,"color":"black"},
{"offset":0.6429,"color":"white"},{"offset":0.6893,"color":"white"},{"offset":0.6893,"color":"black"},{"offset":0.7143,"color":"black"},
{"offset":0.7143,"color":"white"},{"offset":0.7607,"color":"white"},{"offset":0.7607,"color":"black"},{"offset":0.7857,"color":"black"},
{"offset":0.7857,"color":"white"},{"offset":0.8321,"color":"white"},{"offset":0.8321,"color":"black"},{"offset":0.8571,"color":"black"},
{"offset":0.8571,"color":"white"},{"offset":0.9036,"color":"white"},{"offset":0.9036,"color":"black"},{"offset":0.9286,"color":"black"},
{"offset":0.9286,"color":"white"},{"offset":0.975,"color":"white"},{"offset":0.975,"color":"black"},{"offset":1,"color":"black"}]}},
"encoding": {
"x": {"datum": "g", "type": "nominal", "axis": null},
"xOffset": {"field": "c", "type": "nominal"},
"y": {"field": "rt", "type": "quantitative", "axis": null}
}
},
{
"transform": [{"filter": "datum.c == 'F'"}],
"mark": {"type": "text", "align": "right", "baseline": "middle", "dx": -27.5, "dy": -15, "fontSize": 14},
"encoding": {"x": {"datum": "g", "type": "nominal", "axis": null}, "y": {"datum": 0, "type": "quantitative", "axis": null}, "text": {"field": "p"}}
}
]
}
}
]
},
{
"spacing": 364,
"vconcat": [
{
"data": {"name": "gmw"},
"width": 87,
"height": 190,
"title": {"text": "GMW", "fontSize": 19, "frame": "group", "anchor": "middle", "offset": -59},
"layer": [
{
"mark": {"type": "line", "stroke": "black", "strokeWidth": 1.5},
"encoding": {
"x": {"field": "t", "type": "quantitative", "scale": {"domain": [0, 1000], "nice": false}, "axis": {"values": [0, 100, 200, 300, 400, 500, 600, 700, 800, 900, 1000], "tickSize": -4, "labels": false, "title": "ms", "titleFontSize": 15, "titleX": 118, "titleY": 20, "titleAlign": "center", "titleBaseline": "middle"}},
"y": {"field": "v", "type": "quantitative", "scale": {"domain": [-46.6, 31], "reverse": true, "nice": false}, "axis": {"values": [-10, 0, 10, 20], "domain": false, "tickSize": 4, "labelPadding": 12, "labelOverlap": false, "title": "μV", "titleAngle": 0, "titleX": -33, "titleY": 57, "titleFontSize": 15, "titleAlign": "center", "titleBaseline": "middle"}},
"strokeDash": {"field": "c", "type": "nominal", "scale": {"domain": ["F", "R"], "range": [[1.5, 3], [1, 0]]}, "legend": null}
}
},
{
"data": {"values": [{"axis": "y"}]},
"mark": {"type": "rule", "stroke": "black", "strokeWidth": 1.5},
"encoding": {"x": {"datum": 0}, "y": {"datum": -16}, "y2": {"datum": 31}}
},
{
"data": {"values": [{"t": 0, "lab": "0"}, {"t": 1000, "lab": "1000"}]},
"mark": {"type": "text", "align": "center", "baseline": "middle", "dy": 19, "fontSize": 15},
"encoding": {"x": {"field": "t", "type": "quantitative"}, "y": {"datum": 31}, "text": {"field": "lab"}}
},
{
"data": {"values": [{"label": "P3(P300)"}]},
"mark": {"type": "text", "align": "left", "baseline": "middle", "fontSize": 16},
"encoding": {"x": {"datum": 840}, "y": {"datum": 22.4}, "text": {"field": "label"}}
},
{
"data": {"values": [{"label": "⬉"}]},
"mark": {"type": "text", "align": "center", "baseline": "middle", "fontSize": 20, "font": "DejaVu Sans"},
"encoding": {"x": {"datum": 655}, "y": {"datum": 18.4}, "text": {"field": "label"}}
}
]
},
{
"spacing": 51,
"vconcat": [
{
"data": {"name": "mrt"},
"width": 85,
"height": 83,
"title": {"text": "Mean RT", "fontSize": 20, "frame": "group", "anchor": "middle", "offset": 30},
"encoding": {
"x": {"datum": "g", "type": "nominal", "scale": {"paddingInner": 0, "paddingOuter": 0.966, "align": 0.48}, "axis": {"orient": "top", "labels": false, "ticks": false, "title": null, "domain": true}}
},
"layer": [
{
"transform": [{"filter": "datum.c == 'F'"}],
"mark": {"type": "bar", "fill": "white", "stroke": "black", "strokeWidth": 1.3},
"encoding": {
"xOffset": {"field": "c", "type": "nominal", "scale": {"domain": ["F", "R"], "paddingInner": 0, "paddingOuter": 0}},
"y": {"field": "rt", "type": "quantitative", "scale": {"domain": [0, 712], "reverse": true, "nice": false}, "axis": {"values": [0, 200, 400, 600], "tickSize": 4, "labels": false, "title": "ms", "titleAngle": 0, "titleX": -33, "titleY": 97, "titleFontSize": 15, "titleAlign": "center", "titleBaseline": "middle"}}
}
},
{
"transform": [{"filter": "datum.c == 'R'"}],
"mark": {"type": "bar", "stroke": "black", "strokeWidth": 1.3, "fill": {"gradient": "linear", "x1": 0, "y1": 0, "x2": 0.6, "y2": 1.2, "stops": [
{"offset":0,"color":"white"},{"offset":0.0464,"color":"white"},{"offset":0.0464,"color":"black"},{"offset":0.0714,"color":"black"},
{"offset":0.0714,"color":"white"},{"offset":0.1179,"color":"white"},{"offset":0.1179,"color":"black"},{"offset":0.1429,"color":"black"},
{"offset":0.1429,"color":"white"},{"offset":0.1893,"color":"white"},{"offset":0.1893,"color":"black"},{"offset":0.2143,"color":"black"},
{"offset":0.2143,"color":"white"},{"offset":0.2607,"color":"white"},{"offset":0.2607,"color":"black"},{"offset":0.2857,"color":"black"},
{"offset":0.2857,"color":"white"},{"offset":0.3321,"color":"white"},{"offset":0.3321,"color":"black"},{"offset":0.3571,"color":"black"},
{"offset":0.3571,"color":"white"},{"offset":0.4036,"color":"white"},{"offset":0.4036,"color":"black"},{"offset":0.4286,"color":"black"},
{"offset":0.4286,"color":"white"},{"offset":0.475,"color":"white"},{"offset":0.475,"color":"black"},{"offset":0.5,"color":"black"},
{"offset":0.5,"color":"white"},{"offset":0.5464,"color":"white"},{"offset":0.5464,"color":"black"},{"offset":0.5714,"color":"black"},
{"offset":0.5714,"color":"white"},{"offset":0.6179,"color":"white"},{"offset":0.6179,"color":"black"},{"offset":0.6429,"color":"black"},
{"offset":0.6429,"color":"white"},{"offset":0.6893,"color":"white"},{"offset":0.6893,"color":"black"},{"offset":0.7143,"color":"black"},
{"offset":0.7143,"color":"white"},{"offset":0.7607,"color":"white"},{"offset":0.7607,"color":"black"},{"offset":0.7857,"color":"black"},
{"offset":0.7857,"color":"white"},{"offset":0.8321,"color":"white"},{"offset":0.8321,"color":"black"},{"offset":0.8571,"color":"black"},
{"offset":0.8571,"color":"white"},{"offset":0.9036,"color":"white"},{"offset":0.9036,"color":"black"},{"offset":0.9286,"color":"black"},
{"offset":0.9286,"color":"white"},{"offset":0.975,"color":"white"},{"offset":0.975,"color":"black"},{"offset":1,"color":"black"}]}},
"encoding": {"xOffset": {"field": "c", "type": "nominal"}, "y": {"field": "rt", "type": "quantitative"}}
},
{
"mark": {"type": "rule", "stroke": "black", "strokeWidth": 1.5},
"encoding": {"xOffset": {"field": "c", "type": "nominal"}, "y": {"field": "rt", "type": "quantitative"}, "y2": {"field": "hi"}}
},
{
"mark": {"type": "tick", "color": "black", "thickness": 1.5, "size": 10},
"encoding": {"xOffset": {"field": "c", "type": "nominal"}, "y": {"field": "hi", "type": "quantitative"}}
},
{
"data": {"values": [{"lab": 0}, {"lab": 200}, {"lab": 400}, {"lab": 600}]},
"mark": {"type": "text", "align": "right", "baseline": "middle", "dx": -53.4, "fontSize": 15},
"encoding": {"y": {"field": "lab", "type": "quantitative"}, "text": {"field": "lab"}}
}
]
},
{
"data": {"name": "leg"},
"width": 1,
"height": 84,
"encoding": {"y": {"field": "c", "type": "nominal", "scale": {"domain": ["F", "R"]}, "axis": null}},
"layer": [
{
"mark": {"type": "text", "font": "DejaVu Sans", "fontSize": 22, "dx": -22, "align": "center", "baseline": "middle"},
"encoding": {"text": {"field": "sym"}}
},
{
"mark": {"type": "text", "fontSize": 21, "dx": 17, "align": "left", "baseline": "middle"},
"encoding": {"text": {"field": "label"}}
}
]
}
]
}
]
}
]
}
